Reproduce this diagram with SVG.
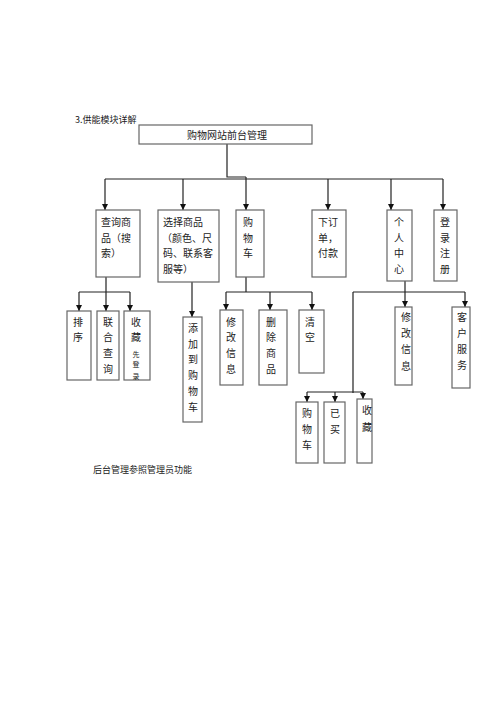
<svg xmlns="http://www.w3.org/2000/svg" width="500" height="707" viewBox="0 0 500 707">
<style>
.box{fill:#fff;stroke:#666;stroke-width:1.2}
.t{font-family:"Noto Sans CJK SC","Noto Sans",sans-serif;font-size:10px;fill:#222}
.s{font-family:"Noto Sans CJK SC","Noto Sans",sans-serif;font-size:7px;fill:#222}
.c{text-anchor:middle}
.ln{fill:none;stroke:#222;stroke-width:1.2}
</style>
<defs>
<marker id="ah" markerUnits="userSpaceOnUse" markerWidth="6" markerHeight="6" refX="6" refY="3" orient="auto">
<path d="M0,0 L6,3 L0,6 z" fill="#111"/>
</marker>
</defs>
<rect width="500" height="707" fill="#fff"/>
<text class="t" x="75" y="123" style="font-size:9px">3.供能模块详解</text>
<text class="t" x="93" y="473" style="font-size:9px">后台管理参照管理员功能</text>

<g id="connectors">
<path class="ln" d="M227,144 V177 H246"/>
<path class="ln" d="M105,179 H443"/>
<path class="ln" d="M105,179 V210" marker-end="url(#ah)"/>
<path class="ln" d="M183,179 V210" marker-end="url(#ah)"/>
<path class="ln" d="M246,177 V210" marker-end="url(#ah)"/>
<path class="ln" d="M328,179 V210" marker-end="url(#ah)"/>
<path class="ln" d="M391,179 V210" marker-end="url(#ah)"/>
<path class="ln" d="M443,179 V210" marker-end="url(#ah)"/>

<path class="ln" d="M106,277 V292 M79,292 H130"/>
<path class="ln" d="M79,292 V311" marker-end="url(#ah)"/>
<path class="ln" d="M106,292 V311" marker-end="url(#ah)"/>
<path class="ln" d="M130,292 V311" marker-end="url(#ah)"/>

<path class="ln" d="M192,282 V317" marker-end="url(#ah)"/>

<path class="ln" d="M246,277 V292 M226,292 H312"/>
<path class="ln" d="M226,292 V310" marker-end="url(#ah)"/>
<path class="ln" d="M270,292 V310" marker-end="url(#ah)"/>
<path class="ln" d="M312,292 V310" marker-end="url(#ah)"/>

<path class="ln" d="M405,281 V292 M353,292 H465"/>
<path class="ln" d="M405,292 V307" marker-end="url(#ah)"/>
<path class="ln" d="M465,292 V307" marker-end="url(#ah)"/>

<path class="ln" d="M353,292 V393 M307,392 H363"/>
<path class="ln" d="M307,392 V402" marker-end="url(#ah)"/>
<path class="ln" d="M335,392 V402" marker-end="url(#ah)"/>
<path class="ln" d="M363,392 V399" marker-end="url(#ah)"/>
</g>

<g id="root"><rect class="box" x="139" y="125" width="173" height="19"/><text class="t c" x="227" y="139">购物网站前台管理</text></g>

<g id="n-search"><rect class="box" x="96" y="210" width="44" height="67"/>
<text class="t" x="101" y="226">查询商</text><text class="t" x="101" y="242">品（搜</text><text class="t" x="101" y="257">索）</text></g>

<g id="n-select"><rect class="box" x="158" y="210" width="61" height="72"/>
<text class="t" x="163" y="226">选择商品</text><text class="t" x="162" y="242">（颜色、尺</text><text class="t" x="163" y="257">码、联系客</text><text class="t" x="163" y="273">服等）</text></g>

<g id="n-cart"><rect class="box" x="236" y="210" width="28" height="67"/>
<text class="t c" x="248" y="226">购</text><text class="t c" x="248" y="242">物</text><text class="t c" x="248" y="257">车</text></g>

<g id="n-order"><rect class="box" x="312" y="210" width="34" height="67"/>
<text class="t" x="318" y="226">下订</text><text class="t" x="318" y="242">单，</text><text class="t" x="318" y="257">付款</text></g>

<g id="n-personal"><rect class="box" x="387" y="210" width="25" height="71"/>
<text class="t c" x="399" y="226">个</text><text class="t c" x="399" y="242">人</text><text class="t c" x="399" y="257">中</text><text class="t c" x="399" y="273">心</text></g>

<g id="n-login"><rect class="box" x="434" y="210" width="23" height="71"/>
<text class="t c" x="445" y="226">登</text><text class="t c" x="445" y="242">录</text><text class="t c" x="445" y="257">注</text><text class="t c" x="445" y="273">册</text></g>

<g id="n-sort"><rect class="box" x="67" y="311" width="24" height="69"/>
<text class="t c" x="78" y="326">排</text><text class="t c" x="78" y="341">序</text></g>

<g id="n-joint"><rect class="box" x="97" y="311" width="22" height="69"/>
<text class="t c" x="108" y="326">联</text><text class="t c" x="108" y="341">合</text><text class="t c" x="108" y="357">查</text><text class="t c" x="108" y="373">询</text></g>

<g id="n-fav"><rect class="box" x="124" y="311" width="26" height="69"/>
<text class="t c" x="136" y="326">收</text><text class="t c" x="136" y="341">藏</text><text class="s c" x="136" y="357">先</text><text class="s c" x="136" y="367">登</text><text class="s c" x="136" y="379">录</text></g>

<g id="n-addcart"><rect class="box" x="183" y="317" width="19" height="105"/>
<text class="t c" x="193" y="332">添</text><text class="t c" x="193" y="348">加</text><text class="t c" x="193" y="363">到</text><text class="t c" x="193" y="379">购</text><text class="t c" x="193" y="395">物</text><text class="t c" x="193" y="411">车</text></g>

<g id="n-cart-edit"><rect class="box" x="220" y="310" width="23" height="75"/>
<text class="t c" x="231" y="326">修</text><text class="t c" x="231" y="341">改</text><text class="t c" x="231" y="357">信</text><text class="t c" x="231" y="373">息</text></g>

<g id="n-cart-del"><rect class="box" x="259" y="310" width="28" height="75"/>
<text class="t c" x="271" y="326">删</text><text class="t c" x="271" y="341">除</text><text class="t c" x="271" y="357">商</text><text class="t c" x="271" y="373">品</text></g>

<g id="n-cart-clear"><rect class="box" x="299" y="310" width="25" height="63"/>
<text class="t c" x="310" y="326">清</text><text class="t c" x="310" y="341">空</text></g>

<g id="n-pc-edit"><rect class="box" x="395" y="307" width="17" height="78"/>
<text class="t c" x="406" y="321">修</text><text class="t c" x="406" y="337">改</text><text class="t c" x="406" y="353">信</text><text class="t c" x="406" y="370">息</text></g>

<g id="n-pc-service"><rect class="box" x="452" y="307" width="18" height="81"/>
<text class="t c" x="462" y="321">客</text><text class="t c" x="462" y="337">户</text><text class="t c" x="462" y="353">服</text><text class="t c" x="462" y="369">务</text></g>

<g id="n-pc-cart"><rect class="box" x="296" y="402" width="22" height="61"/>
<text class="t c" x="307" y="417">购</text><text class="t c" x="307" y="433">物</text><text class="t c" x="307" y="449">车</text></g>

<g id="n-pc-bought"><rect class="box" x="324" y="402" width="21" height="61"/>
<text class="t c" x="335" y="417">已</text><text class="t c" x="335" y="433">买</text></g>

<g id="n-pc-fav"><rect class="box" x="357" y="399" width="15" height="64"/>
<text class="t c" x="367" y="414">收</text><text class="t c" x="367" y="431">藏</text></g>
</svg>
